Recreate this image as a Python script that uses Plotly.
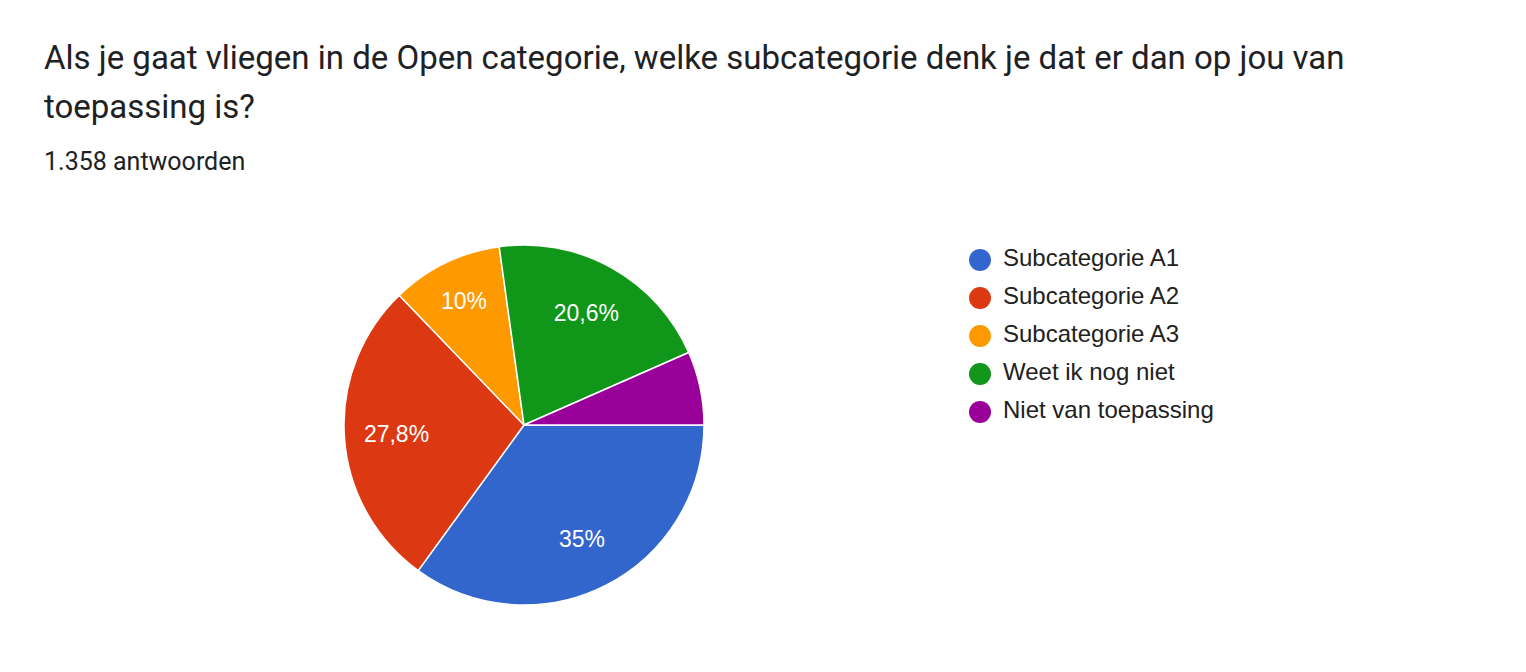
import plotly.graph_objects as go

title_lines = [
    "Als je gaat vliegen in de Open categorie, welke subcategorie denk je dat er dan op jou van",
    "toepassing is?",
]
subtitle = "1.358 antwoorden"

labels = ["Subcategorie A1", "Subcategorie A2", "Subcategorie A3", "Weet ik nog niet", "Niet van toepassing"]
values = [35.0, 27.8, 10.0, 20.6, 6.6]
colors = ["#3366CC", "#DC3912", "#FF9900", "#109618", "#990099"]


def fmt_pct(v):
    # google style: no trailing ,0 and hide tiny slices
    if v < 7:
        return ""
    s = f"{v:.1f}".rstrip("0").rstrip(".")
    return s.replace(".", ",") + "%"


W, H = 1526, 672
OFF = 8  # page body margin


def px_x(x):
    return (x - OFF) / W


def px_y(y):
    return (H - (y - OFF)) / H


pie_domain = dict(x=[px_x(344), px_x(704)], y=[px_y(605), px_y(245)])

fig = go.Figure()
# coloured slices
fig.add_trace(go.Pie(
    labels=labels,
    values=values,
    textinfo="none",
    marker=dict(colors=colors, line=dict(color="white", width=1.5)),
    sort=False,
    direction="clockwise",
    rotation=90,
    showlegend=False,
    hoverinfo="label+percent",
    domain=pie_domain,
))
# transparent ring on top, only to push the labels outwards like google does
fig.add_trace(go.Pie(
    labels=labels,
    values=values,
    hole=0.42,
    text=[fmt_pct(v) for v in values],
    textinfo="text",
    textposition="inside",
    insidetextorientation="horizontal",
    textfont=dict(family="Liberation Sans, Arial", size=23, color="white"),
    marker=dict(colors=["rgba(0,0,0,0)"] * len(values), line=dict(width=0)),
    sort=False,
    direction="clockwise",
    rotation=90,
    showlegend=False,
    hoverinfo="skip",
    domain=pie_domain,
))

# legend drawn as small scatters so the dots can be round and big
fig.add_trace(go.Scatter(
    x=[0] * len(labels),
    y=labels,
    mode="markers",
    marker=dict(color=colors, size=22),
    cliponaxis=False,
    showlegend=False,
    hoverinfo="skip",
))
fig.add_trace(go.Scatter(
    x=[23] * len(labels),
    y=labels,
    mode="text",
    text=labels,
    textposition="middle right",
    textfont=dict(family="Liberation Sans, Arial", size=24, color="#212121"),
    cliponaxis=False,
    showlegend=False,
    hoverinfo="skip",
))

fig.update_layout(
    width=W,
    height=H,
    margin=dict(l=0, r=0, t=0, b=0),
    paper_bgcolor="white",
    plot_bgcolor="white",
    xaxis=dict(domain=[px_x(980), 1], range=[0, W - (980 - OFF)], visible=False, fixedrange=True),
    yaxis=dict(domain=[px_y(431), px_y(241)], range=[4.5, -0.5],
               type="category", visible=False, fixedrange=True),
    annotations=[
        dict(text=title_lines[0], x=px_x(42), y=px_y(58), xref="paper", yref="paper",
             xanchor="left", yanchor="middle", showarrow=False,
             font=dict(family="Roboto", size=33, color="#202124")),
        dict(text=title_lines[1], x=px_x(42), y=px_y(106), xref="paper", yref="paper",
             xanchor="left", yanchor="middle", showarrow=False,
             font=dict(family="Roboto", size=33, color="#202124")),
        dict(text=subtitle, x=px_x(42), y=px_y(162), xref="paper", yref="paper",
             xanchor="left", yanchor="middle", showarrow=False,
             font=dict(family="Roboto", size=25, color="#202124")),
    ],
)

fig.write_html("out.html")
